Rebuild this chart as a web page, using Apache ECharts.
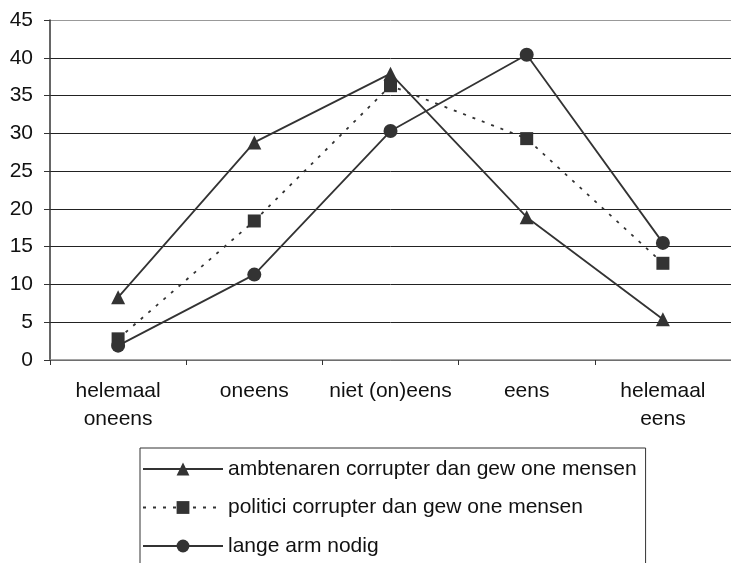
<!DOCTYPE html>
<html>
<head>
<meta charset="utf-8">
<script src="https://cdn.jsdelivr.net/npm/echarts@6/dist/echarts.min.js"></script>
<style>
  html, body { margin: 0; padding: 0; background: #fff; }
  #chart { width: 731px; height: 563px; }
</style>
</head>
<body>
<div id="chart"></div>
<script>
var categories = ['helemaal\noneens', 'oneens', 'niet (on)eens', 'eens', 'helemaal\neens'];
var yTicks = [0, 5, 10, 15, 20, 25, 30, 35, 40, 45];

var ambtenaren = [8.3, 28.8, 37.9, 18.9, 5.4];
var politici = [2.8, 18.4, 36.3, 29.3, 12.8];
var langeArm = [1.9, 11.3, 30.3, 40.4, 15.5];

var names = [
    'ambtenaren corrupter dan gew one mensen',
    'politici corrupter dan gew one mensen',
    'lange arm nodig'
];

var INK = '#333';
var FONT = 'Liberation Sans, Arial, sans-serif';

function makeSerie(name, data, symbol, size, dash) {
    return {
        name: name,
        type: 'line',
        data: data,
        symbol: symbol,
        symbolSize: size,
        itemStyle: { color: INK },
        lineStyle: { color: INK, width: 1.8, type: dash || 'solid' },
        emphasis: { disabled: true },
        animation: false
    }
}

// grid lines: dark ones, the top one (plot border) grey
var gridColors = yTicks.map(function (v, i) { return i === yTicks.length - 1 ? '#999' : '#222' });

var option = {
    backgroundColor: '#fff',
    animation: false,
    grid: { left: 50, top: 20, width: 693, height: 340 },
    xAxis: {
        type: 'category',
        data: categories,
        boundaryGap: true,
        axisLine: { lineStyle: { color: '#888', width: 1.5 } },
        axisTick: { show: true, length: 5, lineStyle: { color: INK } },
        axisLabel: {
            color: '#111', fontSize: 21, fontFamily: FONT,
            margin: 17, lineHeight: 28, interval: 0
        },
        splitLine: { show: false }
    },
    yAxis: {
        type: 'value',
        min: yTicks[0],
        max: yTicks[yTicks.length - 1],
        interval: 5,
        axisLine: { show: true, lineStyle: { color: INK, width: 1.5 } },
        axisTick: { show: true, length: 6, lineStyle: { color: INK } },
        axisLabel: { color: '#111', fontSize: 21, fontFamily: FONT, margin: 17 },
        splitLine: { lineStyle: { color: gridColors, width: 1 } }
    },
    legend: {
        orient: 'vertical',
        left: 140,
        top: 448,
        height: 130,
        padding: [10.5, 9, 20, 2],
        itemWidth: 80,
        itemHeight: 16,
        itemGap: 17.5,
        borderColor: INK,
        borderWidth: 1,
        selectedMode: false,
        textStyle: { color: '#111', fontSize: 21, fontFamily: FONT, lineHeight: 21 },
        data: names
    },
    series: [
        makeSerie(names[0], ambtenaren, 'triangle', 14),
        makeSerie(names[1], politici, 'rect', 13, [3, 7]),
        makeSerie(names[2], langeArm, 'circle', 14)
    ]
};

var chart = echarts.init(document.getElementById('chart'), null, { renderer: 'canvas' });
chart.setOption(option);
</script>
</body>
</html>
